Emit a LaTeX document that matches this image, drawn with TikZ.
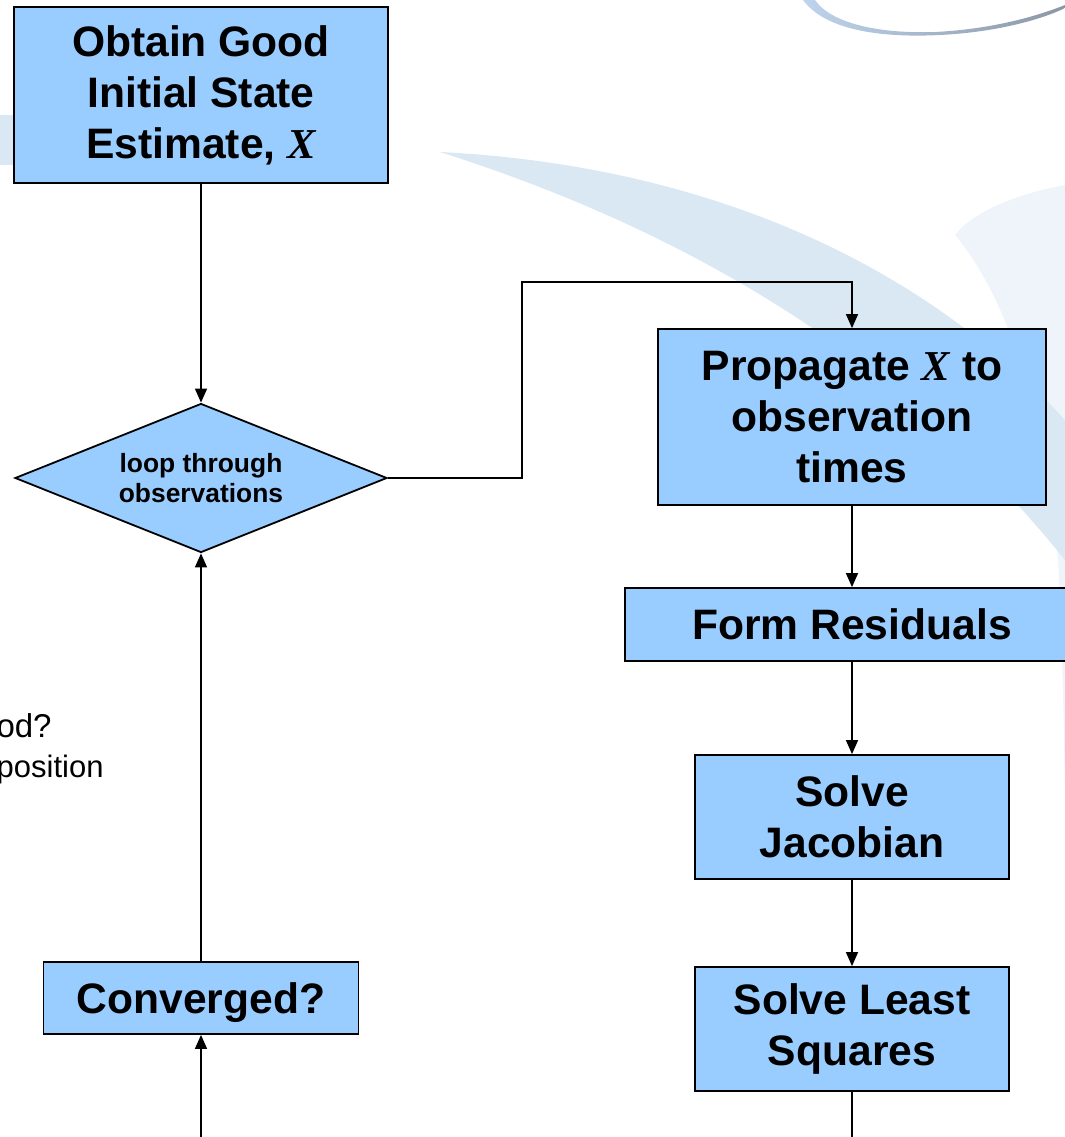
\documentclass[tikz,border=0pt]{standalone}
\usepackage{fontspec}
\setmainfont{Liberation Sans}
\newfontfamily\serifx{Liberation Serif}
\usetikzlibrary{shapes.geometric,arrows.meta,positioning}

\definecolor{boxblue}{HTML}{99CCFF}
\definecolor{swoosh}{RGB}{218,232,244}
\definecolor{swooshpale}{RGB}{238,244,250}
\definecolor{rimblue}{RGB}{190,212,236}
\definecolor{rimgray}{RGB}{140,150,165}

\newcommand{\stateX}{{\serifx\itshape X}}

\tikzset{
  stepbox/.style={draw, rectangle, fill=boxblue, line width=0.9pt, align=center, inner sep=0pt,
    font=\fontsize{21.3}{25.5}\selectfont\bfseries},
  looptest/.style={draw, diamond, aspect=2.5, fill=boxblue, line width=0.9pt, align=center, inner sep=0pt,
    font=\fontsize{13.2}{15}\selectfont\bfseries},
  arr/.style={-{Triangle[length=7pt,width=6pt]}, line width=0.75pt},
  plain/.style={line width=0.75pt}
}

\begin{document}
\begin{tikzpicture}[x=0.5pt, y=-0.5pt]
    \useasboundingbox (0,0) rectangle (1065,1137);

    % background decoration
    \fill[swooshpale] (1065,185) .. controls (1010,195) and (970,215) .. (955,235)
        .. controls (1010,300) and (1045,420) .. (1058,560) .. controls (1062,640) and (1064,720) .. (1065,800) -- cycle;
    \fill[swoosh] (440,152) .. controls (700,165) and (920,260) .. (1065,420) -- (1065,560)
        .. controls (960,430) and (780,260) .. (440,152) -- cycle;
    \fill[swoosh] (0,115) rectangle (14,165);
    \shade[left color=rimblue, right color=rimgray] (803,0) .. controls (825,30) and (880,38) .. (940,35) .. controls (1000,32) and (1045,18) .. (1065,8)
        -- (1065,5) .. controls (1040,15) and (995,29) .. (935,32) .. controls (875,34) and (830,22) .. (815,0) -- cycle;

    \node[stepbox, minimum width=187pt, minimum height=88pt] (init) at (201,95) {Obtain Good\\Initial State\\Estimate, \stateX};
    \node[looptest, minimum width=186pt, minimum height=74.5pt, below of=init, node distance=191.5pt] (loop) {loop through\\observations};
    \node[stepbox, minimum width=194pt, minimum height=88pt] (prop) at (852,417) {Propagate \stateX{} to\\observation\\times};
    \node[stepbox, text depth=0pt, minimum width=227pt, minimum height=36.5pt, below of=prop, node distance=103.75pt] (resid) {Form Residuals};
    \node[stepbox, minimum width=157pt, minimum height=62pt, below of=resid, node distance=96.25pt] (jacob) {Solve\\Jacobian};
    \node[stepbox, minimum width=157pt, minimum height=62pt, below of=jacob, node distance=106pt] (lsq) {Solve Least\\Squares};
    \node[stepbox, text depth=0pt, minimum width=157.5pt, minimum height=36pt, below of=loop, node distance=260pt] (conv) {Converged?};

    % cut-off text at the left edge
    \node[anchor=base east, inner sep=0pt, font=\fontsize{16.5}{18}\selectfont] (cutq) at (52,737) {od?};
    \node[anchor=base east, inner sep=0pt, font=\fontsize{15.5}{18}\selectfont] (cutpos) at (104,777) {position};

    \coordinate (bend) at (522,282);
    \coordinate (lsqout) at (852,1137);
    \coordinate (convin) at (201,1137);

    \draw[arr] (init) -- (loop);
    \draw[arr] (loop.east) -| (bend) -| (prop);
    \draw[arr] (prop) -- (resid);
    \draw[arr] (resid) -- (jacob);
    \draw[arr] (jacob) -- (lsq);
    \draw[plain] (lsq) -- (lsqout);
    \draw[arr] (convin) -- (conv);
    \draw[arr] (conv) -- (loop);
\end{tikzpicture}
\end{document}
